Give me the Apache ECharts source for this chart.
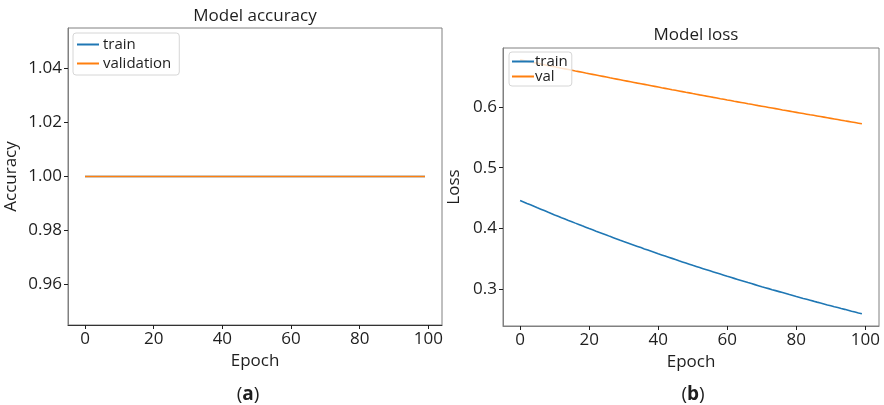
<!DOCTYPE html>
<html>
<head>
<meta charset="utf-8">
<script src="https://cdn.jsdelivr.net/npm/echarts@6/dist/echarts.min.js"></script>
<style>
  html, body { margin: 0; padding: 0; background: #fff; }
  #chart { width: 884px; height: 405px; }
</style>
</head>
<body>
<div id="chart"></div>
<script>
// Training history over 100 epochs
const epochs = Array.from({ length: 100 }, (_, i) => i);

const accTrain = [
  1.0, 1.0, 1.0, 1.0, 1.0, 1.0, 1.0, 1.0, 1.0, 1.0,
  1.0, 1.0, 1.0, 1.0, 1.0, 1.0, 1.0, 1.0, 1.0, 1.0,
  1.0, 1.0, 1.0, 1.0, 1.0, 1.0, 1.0, 1.0, 1.0, 1.0,
  1.0, 1.0, 1.0, 1.0, 1.0, 1.0, 1.0, 1.0, 1.0, 1.0,
  1.0, 1.0, 1.0, 1.0, 1.0, 1.0, 1.0, 1.0, 1.0, 1.0,
  1.0, 1.0, 1.0, 1.0, 1.0, 1.0, 1.0, 1.0, 1.0, 1.0,
  1.0, 1.0, 1.0, 1.0, 1.0, 1.0, 1.0, 1.0, 1.0, 1.0,
  1.0, 1.0, 1.0, 1.0, 1.0, 1.0, 1.0, 1.0, 1.0, 1.0,
  1.0, 1.0, 1.0, 1.0, 1.0, 1.0, 1.0, 1.0, 1.0, 1.0,
  1.0, 1.0, 1.0, 1.0, 1.0, 1.0, 1.0, 1.0, 1.0, 1.0
];

const accVal = [
  1.0, 1.0, 1.0, 1.0, 1.0, 1.0, 1.0, 1.0, 1.0, 1.0,
  1.0, 1.0, 1.0, 1.0, 1.0, 1.0, 1.0, 1.0, 1.0, 1.0,
  1.0, 1.0, 1.0, 1.0, 1.0, 1.0, 1.0, 1.0, 1.0, 1.0,
  1.0, 1.0, 1.0, 1.0, 1.0, 1.0, 1.0, 1.0, 1.0, 1.0,
  1.0, 1.0, 1.0, 1.0, 1.0, 1.0, 1.0, 1.0, 1.0, 1.0,
  1.0, 1.0, 1.0, 1.0, 1.0, 1.0, 1.0, 1.0, 1.0, 1.0,
  1.0, 1.0, 1.0, 1.0, 1.0, 1.0, 1.0, 1.0, 1.0, 1.0,
  1.0, 1.0, 1.0, 1.0, 1.0, 1.0, 1.0, 1.0, 1.0, 1.0,
  1.0, 1.0, 1.0, 1.0, 1.0, 1.0, 1.0, 1.0, 1.0, 1.0,
  1.0, 1.0, 1.0, 1.0, 1.0, 1.0, 1.0, 1.0, 1.0, 1.0
];

const lossTrain = [
  0.4460, 0.4436, 0.4412, 0.4389, 0.4365, 0.4341, 0.4318, 0.4294, 0.4270, 0.4247,
  0.4223, 0.4201, 0.4178, 0.4156, 0.4133, 0.4111, 0.4088, 0.4066, 0.4043, 0.4021,
  0.3998, 0.3977, 0.3955, 0.3934, 0.3913, 0.3892, 0.3870, 0.3849, 0.3828, 0.3806,
  0.3785, 0.3765, 0.3745, 0.3725, 0.3705, 0.3685, 0.3664, 0.3644, 0.3624, 0.3604,
  0.3584, 0.3565, 0.3546, 0.3527, 0.3508, 0.3489, 0.3469, 0.3450, 0.3431, 0.3412,
  0.3393, 0.3375, 0.3357, 0.3339, 0.3321, 0.3303, 0.3285, 0.3267, 0.3249, 0.3231,
  0.3213, 0.3196, 0.3179, 0.3162, 0.3145, 0.3128, 0.3110, 0.3093, 0.3076, 0.3059,
  0.3042, 0.3026, 0.3010, 0.2993, 0.2977, 0.2961, 0.2945, 0.2929, 0.2912, 0.2896,
  0.2880, 0.2865, 0.2849, 0.2834, 0.2819, 0.2804, 0.2788, 0.2773, 0.2758, 0.2742,
  0.2727, 0.2712, 0.2698, 0.2683, 0.2669, 0.2654, 0.2639, 0.2625, 0.2610, 0.2596
];

const lossVal = [
  0.6775, 0.6764, 0.6752, 0.6741, 0.6729, 0.6718, 0.6706, 0.6695, 0.6683, 0.6672,
  0.6660, 0.6649, 0.6637, 0.6626, 0.6615, 0.6604, 0.6592, 0.6581, 0.6570, 0.6558,
  0.6547, 0.6536, 0.6525, 0.6514, 0.6503, 0.6492, 0.6480, 0.6469, 0.6458, 0.6447,
  0.6436, 0.6425, 0.6414, 0.6403, 0.6392, 0.6382, 0.6371, 0.6360, 0.6349, 0.6338,
  0.6327, 0.6316, 0.6306, 0.6295, 0.6284, 0.6274, 0.6263, 0.6252, 0.6241, 0.6231,
  0.6220, 0.6210, 0.6199, 0.6189, 0.6178, 0.6168, 0.6157, 0.6147, 0.6136, 0.6126,
  0.6115, 0.6105, 0.6094, 0.6084, 0.6074, 0.6064, 0.6053, 0.6043, 0.6033, 0.6022,
  0.6012, 0.6002, 0.5992, 0.5982, 0.5972, 0.5962, 0.5951, 0.5941, 0.5931, 0.5921,
  0.5911, 0.5901, 0.5891, 0.5881, 0.5871, 0.5862, 0.5852, 0.5842, 0.5832, 0.5822,
  0.5812, 0.5802, 0.5792, 0.5782, 0.5772, 0.5763, 0.5753, 0.5743, 0.5733, 0.5723
];

const epochTicks = [0, 20, 40, 60, 80, 100];
const accTicks = [0.96, 0.98, 1.00, 1.02, 1.04];
const lossTicks = [0.3, 0.4, 0.5, 0.6];

const FONT = '"Open Sans", "DejaVu Sans", sans-serif';
const TEXT = '#1e1e1e';
const SPINE = '#808080';
const BLUE = '#1f77b4';
const ORANGE = '#ff7f0e';

const pairs = (ys) => epochs.map((x, i) => [x, ys[i]]);

function xAxisFor(gridIndex, lineColor) {
  return {
    type: 'value', gridIndex,
    min: -4.95, max: 103.95,
    name: 'Epoch', nameLocation: 'middle', nameGap: 28,
    nameTextStyle: { fontFamily: FONT, fontSize: 17, color: TEXT, verticalAlign: 'top' },
    splitLine: { show: false },
    axisLine: { show: true, onZero: false, lineStyle: { color: lineColor, width: 1 } },
    axisTick: { show: true, customValues: epochTicks, length: 4, lineStyle: { color: TEXT } },
    axisLabel: { customValues: epochTicks, margin: 6, fontFamily: FONT, fontSize: 17, color: TEXT }
  };
}

function yAxisFor(gridIndex, min, max, ticks, digits, name, gap) {
  return {
    type: 'value', gridIndex, min, max,
    name, nameLocation: 'middle', nameGap: gap, nameRotate: 90,
    nameTextStyle: { fontFamily: FONT, fontSize: 17, color: TEXT },
    splitLine: { show: false },
    axisLine: { show: true, onZero: false, lineStyle: { color: SPINE, width: 1 } },
    axisTick: { show: true, customValues: ticks, length: 4, lineStyle: { color: TEXT } },
    axisLabel: {
      customValues: ticks, margin: 6, fontFamily: FONT, fontSize: 17, color: TEXT,
      formatter: (v) => Number(v).toFixed(digits)
    }
  };
}

function lineSeries(name, xi, yi, data, color) {
  return {
    type: 'line', name, xAxisIndex: xi, yAxisIndex: yi,
    data: pairs(data), showSymbol: false, symbol: 'none',
    lineStyle: { color, width: 1.6 }, itemStyle: { color },
    animation: false
  };
}

const legendBase = {
  orient: 'vertical', icon: 'rect', itemWidth: 22, itemHeight: 2,
  backgroundColor: 'rgba(255,255,255,0.8)', borderColor: '#d6d6d6',
  borderWidth: 1, borderRadius: 3, selectedMode: false
};

const chart = echarts.init(document.getElementById('chart'), null, { renderer: 'canvas' });

chart.setOption({
  animation: false,
  backgroundColor: '#ffffff',
  title: [
    { text: 'Model accuracy', left: 250, top: 3, textAlign: 'center',
      textStyle: { fontFamily: FONT, fontSize: 17, fontWeight: 'normal', color: TEXT } },
    { text: 'Model loss', left: 691, top: 22, textAlign: 'center',
      textStyle: { fontFamily: FONT, fontSize: 17, fontWeight: 'normal', color: TEXT } },
    { text: '({b|a})', left: 243, top: 380, textAlign: 'center',
      textStyle: { fontFamily: FONT, fontSize: 19, fontWeight: 'normal', color: TEXT,
        rich: { b: { fontFamily: FONT, fontSize: 19, fontWeight: 'bold', color: TEXT } } } },
    { text: '({b|b})', left: 688, top: 380, textAlign: 'center',
      textStyle: { fontFamily: FONT, fontSize: 19, fontWeight: 'normal', color: TEXT,
        rich: { b: { fontFamily: FONT, fontSize: 19, fontWeight: 'bold', color: TEXT } } } }
  ],
  legend: [
    Object.assign({}, legendBase, {
      left: 73, top: 33, padding: [4, 8, 4, 4], itemGap: 4,
      data: ['train', 'validation'],
      textStyle: { fontFamily: FONT, fontSize: 15, color: TEXT, padding: [0, 0, 0, -1] }
    }),
    Object.assign({}, legendBase, {
      left: 509, top: 52, padding: [2, 4, 2, 3], itemGap: 0,
      data: [{ name: 'train' }, { name: 'val' }],
      textStyle: { fontFamily: FONT, fontSize: 15, color: TEXT, padding: [0, 0, 0, -4] }
    })
  ],
  grid: [
    { left: 68, top: 28, width: 374, height: 297, show: true,
      borderColor: SPINE, borderWidth: 1, backgroundColor: 'transparent' },
    { left: 503, top: 48, width: 376, height: 278, show: true,
      borderColor: SPINE, borderWidth: 1, backgroundColor: 'transparent' }
  ],
  xAxis: [
    xAxisFor(0, '#333333'),
    xAxisFor(1, SPINE)
  ],
  yAxis: [
    yAxisFor(0, 0.945, 1.055, accTicks, 2, 'Accuracy', 48),
    yAxisFor(1, 0.2395, 0.6970, lossTicks, 1, 'Loss', 40)
  ],
  series: [
    lineSeries('train', 0, 0, accTrain, BLUE),
    lineSeries('validation', 0, 0, accVal, ORANGE),
    lineSeries('train', 1, 1, lossTrain, BLUE),
    lineSeries('val', 1, 1, lossVal, ORANGE)
  ]
});
</script>
</body>
</html>
